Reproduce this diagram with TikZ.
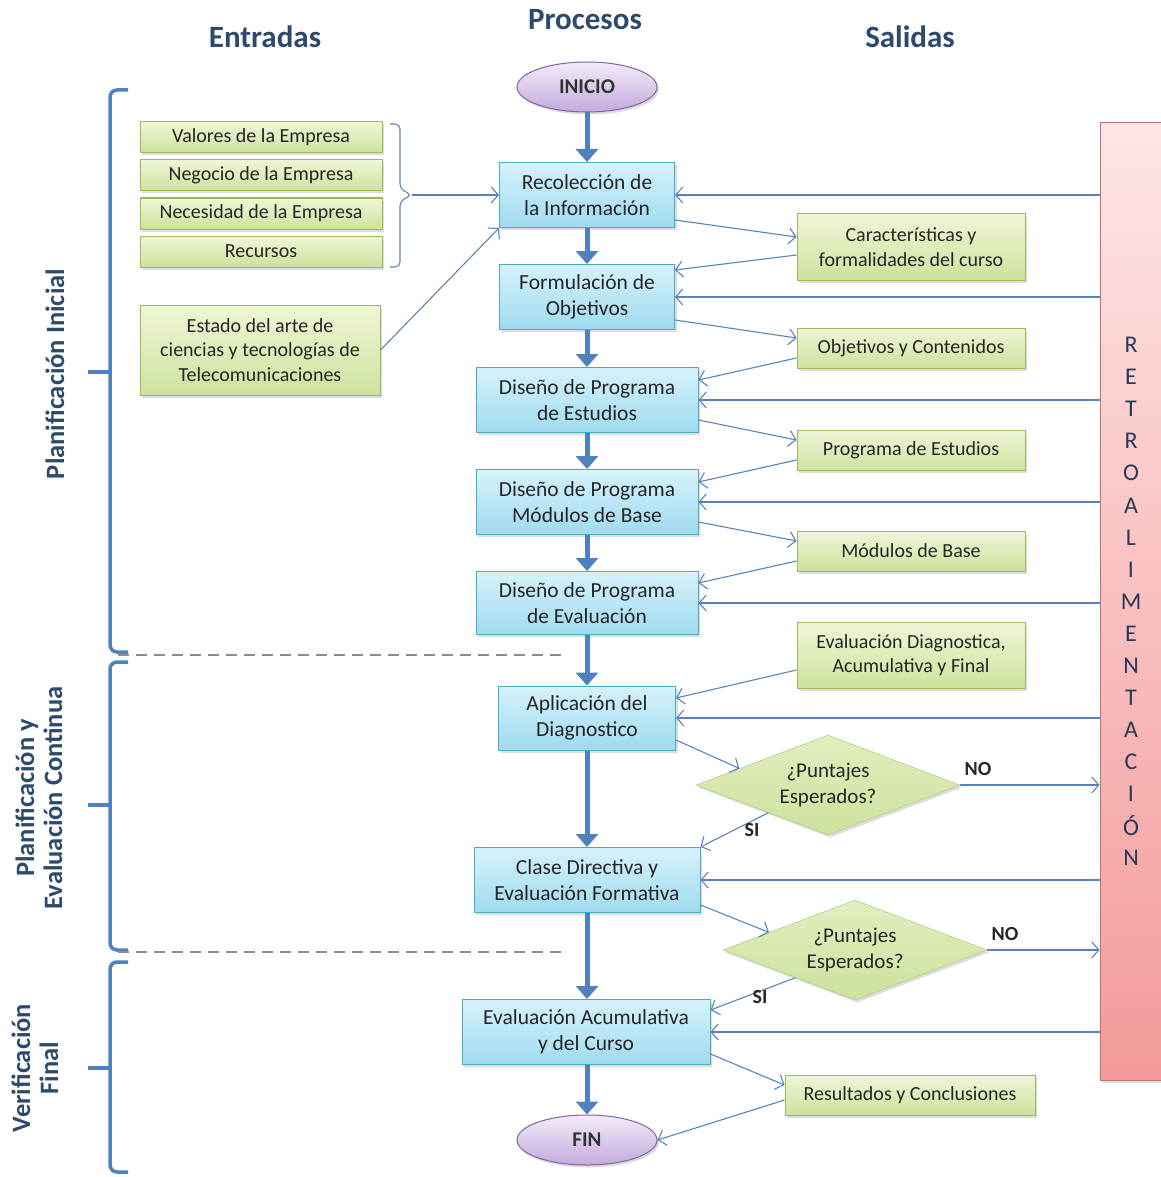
\documentclass[tikz,border=0pt]{standalone}
\usepackage{fontspec}
\setmainfont{Carlito}
\usetikzlibrary{arrows.meta,shapes.geometric,shadows,calc}

\definecolor{headC}{HTML}{2E4A6B}
\definecolor{braceC}{HTML}{4F81BD}
\definecolor{linkC}{HTML}{5A82BA}
\definecolor{procTop}{HTML}{D6F2FB}
\definecolor{procBot}{HTML}{9FDAEF}
\definecolor{procLine}{HTML}{4BACC6}
\definecolor{grnTop}{HTML}{EFF6D8}
\definecolor{grnBot}{HTML}{CDE19C}
\definecolor{grnLine}{HTML}{9BBB59}
\definecolor{ellTop}{HTML}{F2EBF8}
\definecolor{ellBot}{HTML}{C4AADD}
\definecolor{ellLine}{HTML}{8064A2}
\definecolor{redTop}{HTML}{FFE6E6}
\definecolor{redBot}{HTML}{F39A9A}
\definecolor{redLine}{HTML}{C0706E}
\definecolor{dashC}{HTML}{8C8C8C}

\tikzset{
  soft/.style={drop shadow={opacity=0.28, shadow xshift=2pt, shadow yshift=-2.5pt}},
  procbox/.style={draw=procLine, line width=1pt, top color=procTop, bottom color=procBot,
    align=center, inner sep=2pt, font=\fontsize{21.5}{26}\selectfont, text=black!85, soft},
  inbox/.style={draw=grnLine, line width=1pt, top color=grnTop, bottom color=grnBot,
    align=center, inner sep=2pt, font=\fontsize{20}{24.5}\selectfont, text=black!85, soft},
  termbox/.style={ellipse, draw=ellLine, line width=1pt, top color=ellTop, bottom color=ellBot,
    minimum width=140pt, minimum height=50pt, inner sep=0pt,
    font=\fontsize{21}{24}\selectfont\bfseries, text=black!80, soft},
  askbox/.style={diamond, aspect=2.64, draw=grnLine!70, line width=0.6pt,
    top color=grnTop!60!grnBot, bottom color=grnBot,
    minimum width=264pt, minimum height=100pt, inner sep=0pt, align=center,
    font=\fontsize{21}{26}\selectfont, text=black!85, soft},
  headtxt/.style={font=\fontsize{31}{34}\selectfont\bfseries, text=headC},
  sidetxt/.style={rotate=90, align=center, font=\fontsize{26.5}{28}\selectfont\bfseries, text=headC},
  tagtxt/.style={font=\fontsize{20}{22}\selectfont\bfseries, text=black!85},
  retroltr/.style={font=\fontsize{24}{26}\selectfont, text=headC!80!black},
  mainflow/.style={draw=braceC, line width=5pt, -{Triangle[length=13pt,width=22pt]}},
  link/.style={draw=linkC, line width=1.1pt, -{Straight Barb[length=7pt,width=16pt]}},
  groupbrace/.style={draw=braceC, line width=3.5pt, rounded corners=7pt},
  splitline/.style={draw=dashC, line width=1.2pt, dash pattern=on 11pt off 7pt},
}

\begin{document}
\begin{tikzpicture}[x=1pt,y=-1pt]
\useasboundingbox (0,0) rectangle (1160,1177);

% column headings
\node[headtxt] (hin)  at (265,37) {Entradas};
\node[headtxt] (hpro) at (585,20) {Procesos};
\node[headtxt] (hout) at (910,37) {Salidas};

% feedback column
\node[draw=redLine, line width=1pt, top color=redTop, bottom color=redBot,
      minimum width=80pt, minimum height=957pt, inner sep=0pt, soft] (ret) at (1140,601.5) {};
\foreach \l [count=\i from 0] in {R,E,T,R,O,A,L,I,M,E,N,T,A,C,I,Ó,N}
  \node[retroltr] (ltr\i) at (1131,{345+32.06*\i}) {\l};

% process chain
\node[termbox] (ini) at (587,87) {INICIO};
\node[procbox, minimum width=175pt, minimum height=65pt] (rec) at (587,195) {Recolección de\\la Información};
\node[procbox, minimum width=175pt, minimum height=65pt] (form) at (587,297) {Formulación de\\Objetivos};
\node[procbox, minimum width=222pt, minimum height=65pt] (est) at (587,400) {Diseño de Programa\\de Estudios};
\node[procbox, minimum width=222pt, minimum height=65pt] (mod) at (587,502) {Diseño de Programa\\Módulos de Base};
\node[procbox, minimum width=222pt, minimum height=63pt] (eva) at (587,603) {Diseño de Programa\\de Evaluación};
\node[procbox, minimum width=177pt, minimum height=64pt] (apl) at (587,718) {Aplicación del\\Diagnostico};
\node[procbox, minimum width=226pt, minimum height=65pt] (cls) at (587,880) {Clase Directiva y\\Evaluación Formativa};
\node[procbox, minimum width=248pt, minimum height=65pt] (acu) at (586,1032) {Evaluación Acumulativa\\y del Curso};
\node[termbox] (fin) at (587,1140) {FIN};

\draw[mainflow] (ini) -- (rec);
\draw[mainflow] (rec) -- (form);
\draw[mainflow] (form) -- (est);
\draw[mainflow] (est) -- (mod);
\draw[mainflow] (mod) -- (eva);
\draw[mainflow] (eva) -- (apl);
\draw[mainflow] (apl) -- (cls);
\draw[mainflow] (cls) -- (acu.north -| cls.south);
\draw[mainflow] (acu.south -| fin.north) -- (fin);

% inputs
\node[inbox, minimum width=242pt, minimum height=31pt] (val) at (261,137.5) {Valores de la Empresa};
\node[inbox, minimum width=242pt, minimum height=31pt] (neg) at (261,175.5) {Negocio de la Empresa};
\node[inbox, minimum width=242pt, minimum height=31pt] (nec) at (261,213.5) {Necesidad de la Empresa};
\node[inbox, minimum width=242pt, minimum height=31pt] (recu) at (261,251.5) {Recursos};
\node[inbox, minimum width=240pt, minimum height=90pt] (arte) at (260,350) {Estado del arte de\\ciencias y tecnologías de\\Telecomunicaciones};

\coordinate (bt) at (412,195);
\draw[draw=linkC!85!gray, line width=1.1pt, rounded corners=5pt]
  (390,124) -- (400,124) -- (400,189) -- (bt) -- (400,201) -- (400,267) -- (390,267);
\draw[link] (bt) -- (rec.west);
\draw[link] (arte.east) -- (rec.south west);

% outputs
\node[inbox, minimum width=228pt, minimum height=67pt] (car) at (911,247) {Características y\\formalidades del curso};
\node[inbox, minimum width=228pt, minimum height=40pt] (obj) at (911,348) {Objetivos y Contenidos};
\node[inbox, minimum width=228pt, minimum height=40pt] (prog) at (911,450) {Programa de Estudios};
\node[inbox, minimum width=228pt, minimum height=40pt] (mb) at (911,551) {Módulos de Base};
\node[inbox, minimum width=228pt, minimum height=66pt] (edx) at (911,655) {Evaluación Diagnostica,\\Acumulativa y Final};
\node[inbox, minimum width=250pt, minimum height=40pt] (res) at (910,1095) {Resultados y Conclusiones};

\draw[link] ($(rec.east)+(0,25)$) -- ($(car.west)+(0,-10)$);
\draw[link] ($(car.west)+(0,8)$) -- ($(form.east)+(0,-27)$);
\draw[link] ($(form.east)+(0,23)$) -- ($(obj.west)+(0,-10)$);
\draw[link] ($(obj.west)+(0,10)$) -- ($(est.east)+(0,-20)$);
\draw[link] ($(est.east)+(0,20)$) -- ($(prog.west)+(0,-10)$);
\draw[link] ($(prog.west)+(0,10)$) -- ($(mod.east)+(0,-20)$);
\draw[link] ($(mod.east)+(0,20)$) -- ($(mb.west)+(0,-10)$);
\draw[link] ($(mb.west)+(0,10)$) -- ($(eva.east)+(0,-20)$);
\draw[link] ($(edx.west)+(0,15)$) -- ($(apl.east)+(0,-20)$);

% decisions
\node[askbox] (d1) at (828,785) {¿Puntajes\\Esperados?};
\node[askbox] (d2) at (855,950) {¿Puntajes\\Esperados?};

\draw[link] ($(apl.east)+(0,22)$) -- ($(d1.west)!0.33!(d1.north)$);
\draw[link] ($(d1.west)!0.55!(d1.south)$) -- (cls.north east);
\node[tagtxt] (si1) at (752,830) {SI};
\draw[link] (d1.east) -- (d1.east -| ret.west);
\node[tagtxt] (no1) at (978,769) {NO};

\draw[link] ($(cls.east)+(0,25)$) -- ($(d2.west)!0.35!(d2.north)$);
\draw[link] ($(d2.west)!0.55!(d2.south)$) -- ($(acu.east)+(0,-22)$);
\node[tagtxt] (si2) at (760,997) {SI};
\draw[link] (d2.east) -- (d2.east -| ret.west);
\node[tagtxt] (no2) at (1005,934) {NO};

\draw[link] ($(acu.east)+(0,22)$) -- ($(res.west)+(0,-10)$);
\draw[link] ($(res.west)+(0,5)$) -- (fin.east);

% feedback links
\foreach \p in {rec,form,est,mod,eva,apl,cls,acu}
  \draw[link] (ret.west |- \p.east) -- (\p.east);

% stage braces
\draw[groupbrace] (128,90) -- (110,90) -- (110,652) -- (128,652);
\draw[braceC, line width=3.5pt] (110,372) -- (88,372);
\draw[groupbrace] (128,662) -- (110,662) -- (110,950) -- (128,950);
\draw[braceC, line width=3.5pt] (110,805) -- (88,805);
\draw[groupbrace] (128,962) -- (110,962) -- (110,1172) -- (128,1172);
\draw[braceC, line width=3.5pt] (110,1068) -- (88,1068);

\draw[splitline] (118,655) -- (565,655);
\draw[splitline] (118,952) -- (565,952);

\node[sidetxt] (s1) at (55,374) {Planificación Inicial};
\node[sidetxt] (s2) at (39,798) {Planificación y\\Evaluación Continua};
\node[sidetxt] (s3) at (35,1068) {Verificación\\Final};
\end{tikzpicture}
\end{document}
